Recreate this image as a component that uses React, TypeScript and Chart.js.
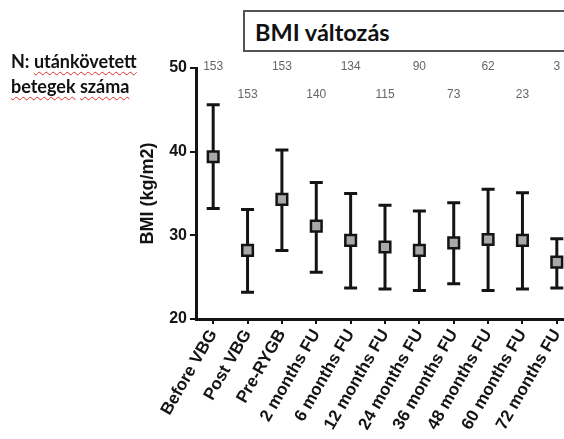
import React, { useEffect, useRef } from "react";
import { Chart, registerables } from "chart.js";

Chart.register(...registerables);

const categories = [
  "Before VBG",
  "Post VBG",
  "Pre-RYGB",
  "2 months FU",
  "6 months FU",
  "12 months FU",
  "24 months FU",
  "36 months FU",
  "48 months FU",
  "60 months FU",
  "72 months FU",
];
const meanBMI = [39.4, 28.2, 34.3, 31.1, 29.4, 28.6, 28.2, 29.1, 29.5, 29.4, 26.8];
const upperBMI = [45.6, 33.1, 40.2, 36.3, 35.0, 33.6, 32.9, 33.9, 35.5, 35.1, 29.6];
const lowerBMI = [33.2, 23.2, 28.2, 25.6, 23.7, 23.6, 23.4, 24.2, 23.4, 23.6, 23.7];
const followedCounts = [153, 153, 153, 140, 134, 115, 90, 73, 62, 23, 3];
const yTicks = [20, 30, 40, 50];

const FONT = "'Liberation Sans', Arial, Helvetica, sans-serif";

const errorBarsPlugin = {
  id: "errorBars",
  beforeDatasetsDraw(chart: any) {
    const { ctx, scales } = chart;
    const x = scales.x;
    const y = scales.y;
    ctx.save();
    ctx.strokeStyle = "#141414";
    ctx.lineWidth = 3;
    ctx.lineCap = "butt";
    categories.forEach((_, i) => {
      const px = x.getPixelForValue(i);
      const top = y.getPixelForValue(upperBMI[i]);
      const bot = y.getPixelForValue(lowerBMI[i]);
      ctx.beginPath();
      ctx.moveTo(px, top);
      ctx.lineTo(px, bot);
      ctx.moveTo(px - 6.5, top);
      ctx.lineTo(px + 6.5, top);
      ctx.moveTo(px - 6.5, bot);
      ctx.lineTo(px + 6.5, bot);
      ctx.stroke();
    });
    ctx.restore();
  },
};

const countsPlugin = {
  id: "counts",
  afterDraw(chart: any) {
    const { ctx, scales, chartArea } = chart;
    const x = scales.x;
    ctx.save();
    ctx.font = `12px ${FONT}`;
    ctx.fillStyle = "#666";
    ctx.textAlign = "center";
    ctx.textBaseline = "middle";
    followedCounts.forEach((n, i) => {
      const px = x.getPixelForValue(i);
      const py = i % 2 === 0 ? chartArea.top - 1 : chartArea.top + 27;
      ctx.fillText(String(n), px, py);
    });
    ctx.restore();
  },
};

export default function App() {
  const canvasRef = useRef<HTMLCanvasElement | null>(null);

  useEffect(() => {
    if (!canvasRef.current) return;
    const chart = new Chart(canvasRef.current, {
      type: "line",
      data: {
        labels: categories,
        datasets: [
          {
            data: meanBMI,
            showLine: false,
            pointStyle: "rect",
            pointRadius: 7.5,
            pointBorderWidth: 2.5,
            pointBackgroundColor: "#a8a8a8",
            pointBorderColor: "#141414",
          },
        ],
      },
      options: {
        responsive: false,
        animation: false,
        devicePixelRatio: 1,
        layout: { padding: { left: 128, top: 68, right: 26, bottom: 0 } },
        plugins: {
          legend: { display: false },
          tooltip: { enabled: false },
          title: { display: false },
        },
        scales: {
          x: {
            type: "category",
            offset: true,
            afterFit: (s: any) => {
              s.height = 120;
            },
            grid: {
              drawOnChartArea: false,
              drawTicks: true,
              tickLength: 5,
              lineWidth: 2,
              color: "#141414",
            },
            border: { display: true, width: 3, color: "#141414" },
            ticks: {
              autoSkip: false,
              minRotation: 60,
              maxRotation: 60,
              padding: 2,
              color: "#141414",
              font: { family: FONT, size: 17, weight: "bold" },
            },
          },
          y: {
            min: 20,
            max: 50,
            afterFit: (s: any) => {
              s.width = 68;
            },
            afterBuildTicks: (s: any) => {
              s.ticks = yTicks.map((v) => ({ value: v }));
            },
            grid: {
              drawOnChartArea: false,
              drawTicks: true,
              tickLength: 6,
              lineWidth: 2,
              color: "#141414",
            },
            border: { display: true, width: 3, color: "#141414" },
            ticks: {
              padding: 3,
              color: "#141414",
              font: { family: FONT, size: 16, weight: "bold" },
            },
            title: {
              display: true,
              text: "BMI (kg/m2)",
              color: "#141414",
              padding: { top: 9, bottom: 0 },
              font: { family: FONT, size: 18, weight: "bold" },
            },
          },
        },
      },
      plugins: [errorBarsPlugin, countsPlugin],
    } as any);
    return () => chart.destroy();
  }, []);

  const squiggle: React.CSSProperties = {
    textDecorationLine: "underline",
    textDecorationStyle: "wavy",
    textDecorationColor: "#e0302a",
    textDecorationThickness: "1px",
    textUnderlineOffset: "3px",
  };

  return (
    <div
      style={{
        position: "fixed",
        left: 0,
        top: 0,
        width: 564,
        height: 439,
        overflow: "hidden",
        background: "#fff",
      }}
    >
      <canvas
        ref={canvasRef}
        width={600}
        height={439}
        style={{ position: "absolute", left: 0, top: 0, width: 600, height: 439 }}
      />
      <div
        style={{
          position: "absolute",
          left: 11,
          top: 49,
          fontFamily: "Lato, 'Open Sans', sans-serif",
          fontWeight: 700,
          fontSize: 18,
          lineHeight: "25px",
          color: "#111",
          whiteSpace: "nowrap",
        }}
      >
        <div>
          N: <span style={squiggle}>utánkövetett</span>
        </div>
        <div>
          <span style={squiggle}>betegek</span> <span style={squiggle}>száma</span>
        </div>
      </div>
      <div
        style={{
          position: "absolute",
          left: 243,
          top: 10,
          width: 400,
          height: 42,
          boxSizing: "border-box",
          border: "2px solid #555",
          background: "#fff",
        }}
      />
      <div
        style={{
          position: "absolute",
          left: 255,
          top: 21,
          fontFamily: "Lato, 'Open Sans', sans-serif",
          fontWeight: 700,
          fontSize: 23.5,
          lineHeight: "23.5px",
          color: "#111",
          whiteSpace: "nowrap",
        }}
      >
        BMI változás
      </div>
    </div>
  );
}
